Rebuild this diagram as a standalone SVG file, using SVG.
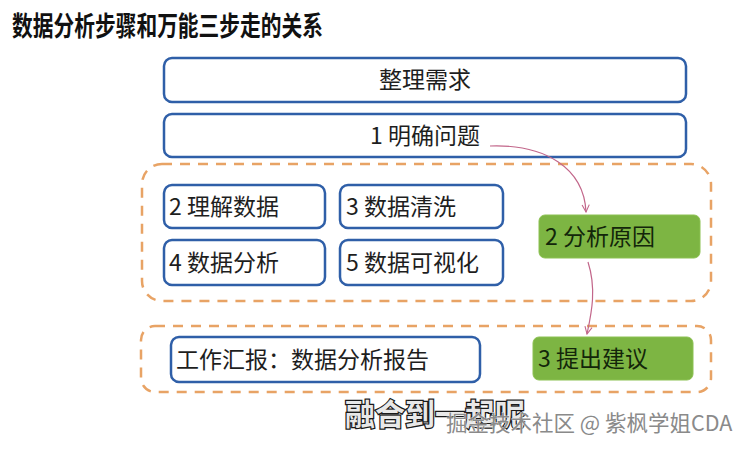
<svg xmlns="http://www.w3.org/2000/svg" width="752" height="449" viewBox="0 0 752 449">
<style>
  text { font-family: "Noto Sans CJK SC", "Noto Sans", sans-serif; }
  .box { fill: #ffffff; stroke: #2f5fa8; stroke-width: 2.5; }
  .grp { fill: none; stroke: #e8a365; stroke-width: 2.5; stroke-dasharray: 10 8; }
  .green { fill: #7db543; stroke: #8cc152; stroke-width: 1; }
  .lbl { font-size: 23px; fill: #1e1e1e; }
  .glbl { font-size: 23px; fill: #13260a; }
  .conn { fill: none; stroke: #c2668a; stroke-width: 1.2; }
</style>
<defs>
  <marker id="arr" viewBox="0 0 10 10" refX="9" refY="5" markerWidth="9" markerHeight="9" orient="auto" markerUnits="userSpaceOnUse">
    <path d="M1,1 L9,5 L1,9" fill="none" stroke="#c2668a" stroke-width="1.2"/>
  </marker>
</defs>
<rect width="752" height="449" fill="#ffffff"/>
<text id="title" x="12" y="36" font-size="27" font-weight="bold" fill="#111111" textLength="311" lengthAdjust="spacingAndGlyphs">数据分析步骤和万能三步走的关系</text>

<g id="group1"><rect class="grp" x="142" y="164" width="569" height="137" rx="20"/></g>
<g id="group2"><rect class="grp" x="141" y="326" width="570" height="66" rx="14"/></g>

<g id="n-zhengli"><rect class="box" x="164" y="58" width="522" height="44" rx="8"/><text class="lbl" x="425" y="88" text-anchor="middle">整理需求</text></g>
<g id="n-mingque"><rect class="box" x="164" y="114" width="522" height="43" rx="8"/><text class="lbl" x="425" y="144" text-anchor="middle">1 明确问题</text></g>
<g id="n-lijie"><rect class="box" x="164" y="185" width="161" height="43" rx="8"/><text class="lbl" x="169" y="215">2 理解数据</text></g>
<g id="n-qingxi"><rect class="box" x="340" y="185" width="163" height="43" rx="8"/><text class="lbl" x="346" y="215">3 数据清洗</text></g>
<g id="n-fenxi"><rect class="box" x="164" y="240" width="161" height="45" rx="8"/><text class="lbl" x="169" y="271">4 数据分析</text></g>
<g id="n-keshi"><rect class="box" x="340" y="240" width="163" height="45" rx="8"/><text class="lbl" x="346" y="271">5 数据可视化</text></g>
<g id="n-yuanyin"><rect class="green" x="539" y="215" width="161" height="43" rx="6"/><text class="glbl" x="545" y="245">2 分析原因</text></g>
<g id="n-baogao"><rect class="box" x="171" y="337" width="309" height="45" rx="8"/><text class="lbl" x="176" y="368">工作汇报：数据分析报告</text></g>
<g id="n-jianyi"><rect class="green" x="533" y="337" width="160" height="43" rx="6"/><text class="glbl" x="538" y="367">3 提出建议</text></g>

<g id="connectors">
  <path class="conn" d="M 490 146 C 545 144, 584 168, 586 212" marker-end="url(#arr)"/>
  <path class="conn" d="M 588 262 C 597 290, 591 315, 587 334" marker-end="url(#arr)"/>
</g>

<text x="345" y="425" font-size="30" font-weight="bold" fill="#e8e8e8" stroke="#1a1a1a" stroke-width="2.5" paint-order="stroke">融合到一起呢</text>
<text x="446" y="431" font-size="21.5" fill="#8a8a8a" stroke="#ffffff" stroke-width="0.6" paint-order="stroke">掘金技术社区 @ 紫枫学姐CDA</text>
</svg>
